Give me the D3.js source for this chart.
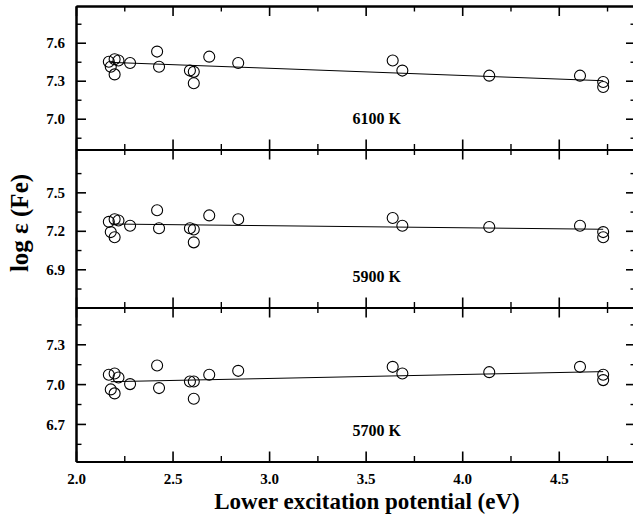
<!DOCTYPE html>
<html><head><meta charset="utf-8">
<script src="https://cdn.jsdelivr.net/npm/d3@7"></script>
<style>
body{margin:0;background:#fff;}
svg{display:block;}
text{font-family:"Liberation Serif","Times New Roman",serif;font-weight:bold;fill:#000;}
</style>
</head><body>
<svg id="chart" width="633" height="524"></svg>
<script>
// ---- data ----
const excitation = [2.17, 2.18, 2.20, 2.22, 2.20, 2.28, 2.42, 2.43, 2.59, 2.61, 2.61, 2.69, 2.84, 3.64, 3.69, 4.14, 4.61, 4.73, 4.73];
const abund6100 = [7.45, 7.41, 7.47, 7.46, 7.35, 7.44, 7.53, 7.41, 7.38, 7.37, 7.28, 7.49, 7.44, 7.46, 7.38, 7.34, 7.34, 7.29, 7.25];
const abund5900 = [7.27, 7.19, 7.29, 7.28, 7.15, 7.24, 7.36, 7.22, 7.22, 7.21, 7.11, 7.32, 7.29, 7.30, 7.24, 7.23, 7.24, 7.19, 7.15];
const abund5700 = [7.07, 6.96, 7.08, 7.05, 6.93, 7.00, 7.14, 6.97, 7.02, 7.02, 6.89, 7.07, 7.10, 7.13, 7.08, 7.09, 7.13, 7.07, 7.03];
const fitX = [2.18, 4.73];
const fit6100 = [7.445, 7.300];
const fit5900 = [7.253, 7.212];
const fit5700 = [7.018, 7.094];
const panelLabels = ["6100 K", "5900 K", "5700 K"];
const xMajorTicks = [2.0, 2.5, 3.0, 3.5, 4.0, 4.5];
const xMinorTicks = [2.25, 2.75, 3.25, 3.75, 4.25, 4.75];
const yMajor6100 = [7.0, 7.3, 7.6];
const yMinor6100 = [6.85, 7.15, 7.45, 7.75];
const yMajor5900 = [6.9, 7.2, 7.5];
const yMinor5900 = [6.75, 7.05, 7.35, 7.65];
const yMajor5700 = [6.7, 7.0, 7.3];
const yMinor5700 = [6.55, 6.85, 7.15, 7.45];
const yDomain6100 = [6.757, 7.89];
const yDomain5900 = [6.602, 7.834];
const yDomain5700 = [6.417, 7.577];
const xDomain = [2.0, 4.9];
const xTitle = "Lower excitation potential (eV)";
const yTitle = "log ε (Fe)";

// ---- layout ----
const left = 76, right = 636;
const panelTops = [6, 149.5, 307.5];
const panelBottoms = [149.5, 307.5, 461.5];
const majorLen = 10, minorLen = 5.5;

const panels = [
  {label: panelLabels[0], vals: abund6100, fit: fit6100, major: yMajor6100, minor: yMinor6100, domain: yDomain6100},
  {label: panelLabels[1], vals: abund5900, fit: fit5900, major: yMajor5900, minor: yMinor5900, domain: yDomain5900},
  {label: panelLabels[2], vals: abund5700, fit: fit5700, major: yMajor5700, minor: yMinor5700, domain: yDomain5700}
];

const svg = d3.select("#chart");
const x = d3.scaleLinear().domain(xDomain).range([left, right]);
const fmt = d3.format(".1f");

function styleAxis(g, w) {
  g.select(".domain").attr("stroke", "#000").attr("stroke-width", 2);
  g.selectAll(".tick line").attr("stroke", "#000").attr("stroke-width", w);
  g.selectAll(".tick text").style("font-size", "15px").attr("fill", "#000");
}

panels.forEach((p, i) => {
  const top = panelTops[i], bottom = panelBottoms[i];
  const y = d3.scaleLinear().domain(p.domain).range([bottom, top]);
  const g = svg.append("g");

  const yl = g.append("g").attr("transform", `translate(${left},0)`)
    .call(d3.axisLeft(y).tickValues(p.major).tickSizeInner(-majorLen).tickSizeOuter(0).tickPadding(11).tickFormat(fmt));
  styleAxis(yl, 1.6);
  yl.selectAll(".tick text").attr("dy", "0.34em");
  const ylm = g.append("g").attr("transform", `translate(${left},0)`)
    .call(d3.axisLeft(y).tickValues(p.minor).tickSizeInner(-minorLen).tickSizeOuter(0).tickFormat(""));
  styleAxis(ylm, 1.4);
  const yr = g.append("g").attr("transform", `translate(${right},0)`)
    .call(d3.axisRight(y).tickValues(p.major).tickSizeInner(-majorLen).tickSizeOuter(0).tickFormat(""));
  styleAxis(yr, 1.6);
  const yrm = g.append("g").attr("transform", `translate(${right},0)`)
    .call(d3.axisRight(y).tickValues(p.minor).tickSizeInner(-minorLen).tickSizeOuter(0).tickFormat(""));
  styleAxis(yrm, 1.4);

  const xt = g.append("g").attr("transform", `translate(0,${top})`)
    .call(d3.axisTop(x).tickValues(xMajorTicks).tickSizeInner(-majorLen).tickSizeOuter(0).tickFormat(""));
  styleAxis(xt, 1.6);
  const xtm = g.append("g").attr("transform", `translate(0,${top})`)
    .call(d3.axisTop(x).tickValues(xMinorTicks).tickSizeInner(-minorLen).tickSizeOuter(0).tickFormat(""));
  styleAxis(xtm, 1.4);
  const xb = g.append("g").attr("transform", `translate(0,${bottom})`)
    .call(d3.axisBottom(x).tickValues(xMajorTicks).tickSizeInner(-majorLen).tickSizeOuter(0)
      .tickPadding(12).tickFormat(i === 2 ? fmt : ""));
  styleAxis(xb, 1.6);
  const xbm = g.append("g").attr("transform", `translate(0,${bottom})`)
    .call(d3.axisBottom(x).tickValues(xMinorTicks).tickSizeInner(-minorLen).tickSizeOuter(0).tickFormat(""));
  styleAxis(xbm, 1.4);

  const line = d3.line().x(d => x(d[0])).y(d => y(d[1]));
  g.append("path").datum(fitX.map((v, k) => [v, p.fit[k]]))
    .attr("d", line).attr("fill", "none").attr("stroke", "#000").attr("stroke-width", 1);

  g.selectAll("circle.pt").data(excitation.map((v, k) => [v, p.vals[k]])).join("circle")
    .attr("class", "pt")
    .attr("cx", d => x(d[0])).attr("cy", d => y(d[1])).attr("r", 5.5)
    .attr("fill", "none").attr("stroke", "#000").attr("stroke-width", 1.1);

  g.append("text").attr("x", x(3.557)).attr("y", bottom - 25.5)
    .attr("text-anchor", "middle").style("font-size", "16px").text(p.label);
});

svg.append("text").attr("x", 367).attr("y", 509).attr("text-anchor", "middle")
  .style("font-size", "23px").text(xTitle);
svg.append("text").attr("transform", "translate(28,223) rotate(-90)").attr("text-anchor", "middle")
  .style("font-size", "25px").text(yTitle);
</script>
</body></html>
